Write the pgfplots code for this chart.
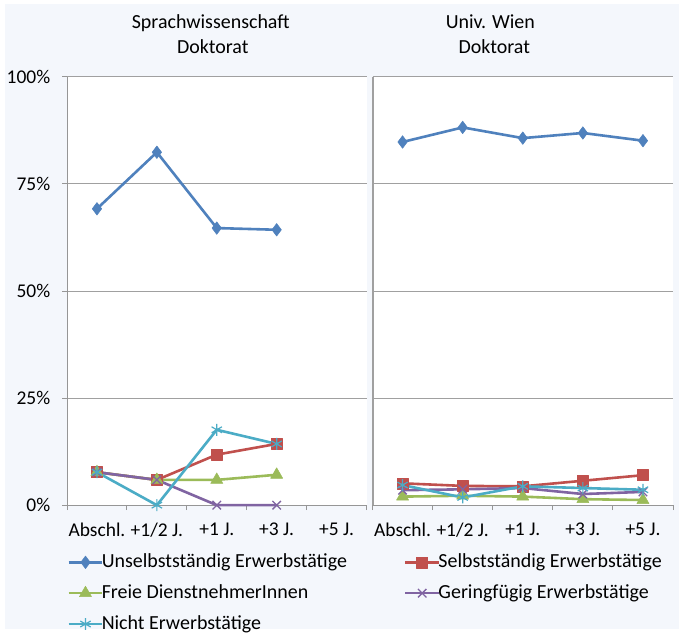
\documentclass[border=0pt]{standalone}
\usepackage{pgfplots}
\pgfplotsset{compat=1.18}
\usepackage{fontspec}
\setmainfont{Carlito}
\definecolor{bg}{RGB}{244,247,252}
\definecolor{cA}{RGB}{79,129,189}
\definecolor{cB}{RGB}{192,80,77}
\definecolor{cC}{RGB}{155,187,89}
\definecolor{cD}{RGB}{128,100,162}
\definecolor{cE}{RGB}{75,172,198}
\definecolor{gridc}{RGB}{160,160,160}
\definecolor{axc}{RGB}{150,150,150}
\pgfplotsset{
  panel/.style={
    scale only axis, anchor=south west,
    width=300pt, height=429pt,
    xmin=-0.5, xmax=4.5, ymin=0, ymax=100,
    axis x line*=bottom, axis y line*=left,
    xtick={0,1,2,3,4},
    xticklabels={Abschl.,+1/2 J.,+1 J.,+3 J.,+5 J.},
    minor xtick={-0.5,0.5,1.5,2.5,3.5,4.5},
    ytick={0,25,50,75,100},
    ymajorgrids, grid style={gridc, line width=1pt},
    major x tick style={draw=none},
    minor tick length=5pt, major tick length=5pt,
    tick align=outside,
    every tick/.style={axc, line width=1pt},
    minor x tick style={axc, line width=1pt},
    axis line style={axc, line width=1pt},
    /pgf/number format/assume math mode=true,
    tick label style={font=\fontsize{19.5}{23}\selectfont, black},
    xticklabel style={yshift=-6pt},
    yticklabel style={xshift=-5pt},
    axis background/.style={fill=white},
    clip=false,
    every axis plot/.append style={line width=2.6pt, line join=round},
    legend image code/.code={\draw[mark repeat=2,mark phase=2] plot coordinates {(0pt,0pt) (17pt,0pt) (34pt,0pt)};},
  },
  sA/.style={cA, mark=diamond*, mark size=6.3pt, mark options={solid, fill=cA, line width=0.5pt}},
  sB/.style={cB, mark=square*, mark size=5.5pt, mark options={solid, fill=cB, line width=0.5pt}},
  sC/.style={cC, mark=triangle*, mark size=7pt, mark options={solid, fill=cC, line width=0.5pt}},
  sD/.style={cD, mark=x, mark size=6pt, mark options={solid, line width=1.3pt}},
  sE/.style={cE, mark=asterisk, mark size=6pt, mark options={solid, line width=1.2pt}},
}
\begin{document}
\fontsize{20}{24}\selectfont
\begin{tikzpicture}
\fill[white] (0pt,0pt) rectangle (679pt,634pt);
\fill[bg] (4pt,4pt) rectangle (679pt,630pt);
\begin{axis}[panel, at={(66pt,128pt)},
  yticklabel={\pgfmathprintnumber{\tick}\%},
  legend columns=2,
  legend cell align=left,
  legend style={at={(0,-0.111)}, anchor=north west, draw=none, fill=none,
    font=\fontsize{20}{24}\selectfont, inner sep=0pt, row sep=12pt,
    nodes={inner sep=1pt},
    /tikz/column 1/.style={column sep=-3pt},
    /tikz/column 2/.style={column sep=56pt},
    /tikz/column 3/.style={column sep=-3pt}},
]
\addplot+[sA] coordinates {(0,69.2) (1,82.4) (2,64.7) (3,64.3)};
\addlegendentry{Unselbstständig Erwerbstätige}
\addplot+[sB] coordinates {(0,7.7) (1,5.9) (2,11.8) (3,14.3)};
\addlegendentry{Selbstständig Erwerbstätige}
\addplot+[sC] coordinates {(0,7.7) (1,5.9) (2,5.9) (3,7.1)};
\addlegendentry{Freie DienstnehmerInnen}
\addplot+[sD] coordinates {(0,7.7) (1,5.9) (2,0) (3,0)};
\addlegendentry{Geringfügig Erwerbstätige}
\addplot+[sE] coordinates {(0,7.7) (1,0) (2,17.6) (3,14.3)};
\addlegendentry{Nicht Erwerbstätige}
\end{axis}
\begin{axis}[panel, at={(372pt,128pt)}, width=301pt,
  yticklabels={}, major y tick style={draw=none},
  y axis line style={line width=2pt, gridc},
]
\addplot+[sA] coordinates {(0,84.8) (1,88.2) (2,85.7) (3,86.9) (4,85.1)};
\addplot+[sB] coordinates {(0,5.1) (1,4.5) (2,4.4) (3,5.7) (4,7.0)};
\addplot+[sC] coordinates {(0,2.0) (1,2.2) (2,2.0) (3,1.4) (4,1.2)};
\addplot+[sD] coordinates {(0,3.5) (1,3.7) (2,4.0) (3,2.6) (4,3.1)};
\addplot+[sE] coordinates {(0,4.7) (1,1.8) (2,4.4) (3,4.0) (4,3.6)};
\end{axis}
\node[anchor=base] at (210pt,605pt) {Sprachwissenschaft};
\node[anchor=base] at (212pt,580pt) {Doktorat};
\node[anchor=base] at (490pt,605pt) {Univ. Wien};
\node[anchor=base] at (494pt,580pt) {Doktorat};
\end{tikzpicture}
\end{document}
